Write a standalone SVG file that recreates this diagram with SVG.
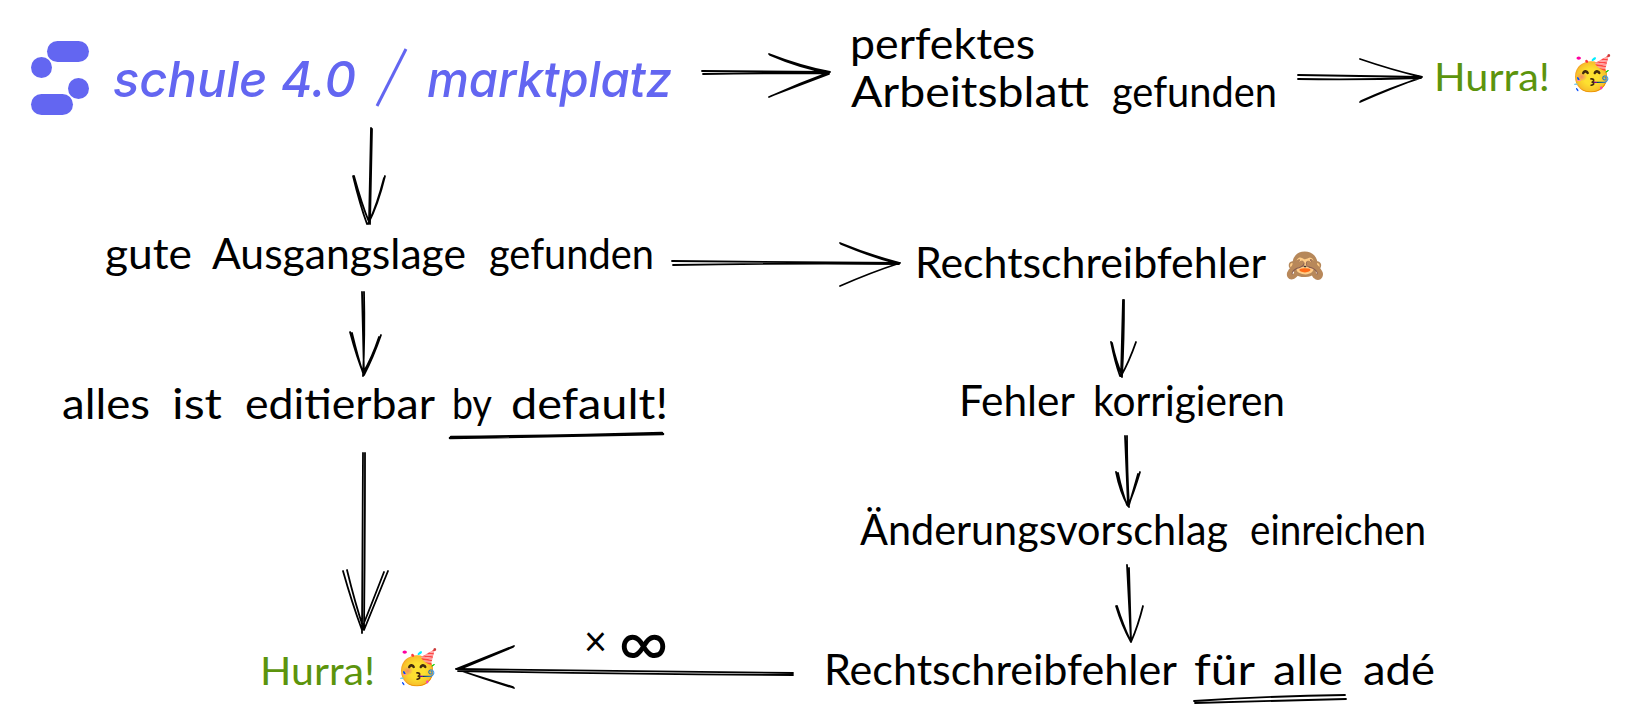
<svg xmlns="http://www.w3.org/2000/svg" width="1632" height="721" viewBox="0 0 1632 721">
<style>
.c{fill:none;stroke:#000;stroke-width:1.8;stroke-linecap:round;stroke-linejoin:round}
.u{stroke-width:2.6}
.t{font-family:"Lato","Noto Sans",sans-serif;font-size:42px;fill:#000}
.g{font-size:38px;fill:#5c940d}
.b{font-family:"Inter","Liberation Sans",sans-serif;font-style:italic;font-weight:500;font-size:50px;fill:#6366f1}
.e{font-family:"Noto Color Emoji","DejaVu Sans",sans-serif;font-size:34px}
</style>
<rect width="1632" height="721" fill="#fff"/>
<g id="logo" fill="#6366f1">
<rect x="47" y="41" width="42" height="21" rx="10.5"/>
<ellipse cx="41.5" cy="67.5" rx="10.5" ry="10.5"/>
<ellipse cx="78.5" cy="88.5" rx="10.5" ry="10.5"/>
<rect x="31" y="94" width="42" height="21" rx="10.5"/>
<path d="M377 106L406 49" stroke="#6366f1" stroke-width="3" fill="none"/>
<text class="b" x="113" y="97" textLength="243" lengthAdjust="spacingAndGlyphs">schule 4.0</text>
<text class="b" x="427" y="97" textLength="245" lengthAdjust="spacingAndGlyphs">marktplatz</text>
</g>
<g id="n-perfekt"><text class="t"><tspan x="850" y="59" textLength="185" lengthAdjust="spacingAndGlyphs">perfektes</tspan> <tspan x="851" y="107" textLength="238" lengthAdjust="spacingAndGlyphs">Arbeitsblatt</tspan> <tspan x="1112" y="107" textLength="165" lengthAdjust="spacingAndGlyphs">gefunden</tspan></text></g>
<g id="n-hurra1"><text class="t g" x="1434" y="91" textLength="116" lengthAdjust="spacingAndGlyphs">Hurra!</text><text class="e" x="1570" y="85">🥳</text></g>
<g id="n-gute"><text class="t" y="269"><tspan x="105" textLength="87" lengthAdjust="spacingAndGlyphs">gute</tspan> <tspan x="212" textLength="254" lengthAdjust="spacingAndGlyphs">Ausgangslage</tspan> <tspan x="489" textLength="165" lengthAdjust="spacingAndGlyphs">gefunden</tspan></text></g>
<g id="n-recht"><text class="t" x="915" y="278" textLength="351" lengthAdjust="spacingAndGlyphs">Rechtschreibfehler</text><text class="e" x="1285" y="276" style="font-size:32px">🙈</text></g>
<g id="n-alles"><text class="t" y="419"><tspan x="62" textLength="88" lengthAdjust="spacingAndGlyphs">alles</tspan> <tspan x="172" textLength="50" lengthAdjust="spacingAndGlyphs">ist</tspan> <tspan x="245" textLength="189" lengthAdjust="spacingAndGlyphs">editierbar</tspan> <tspan x="452" textLength="39" lengthAdjust="spacingAndGlyphs">by</tspan> <tspan x="511" textLength="157" lengthAdjust="spacingAndGlyphs">default!</tspan></text><path class="c u" d="M450 438L663 434M451 437Q560 436 662 433"/></g>
<g id="n-fehler"><text class="t" y="416"><tspan x="959" textLength="115" lengthAdjust="spacingAndGlyphs">Fehler</tspan> <tspan x="1093" textLength="192" lengthAdjust="spacingAndGlyphs">korrigieren</tspan></text></g>
<g id="n-aenderung"><text class="t" y="545"><tspan x="860" textLength="368" lengthAdjust="spacingAndGlyphs">Änderungsvorschlag</tspan> <tspan x="1250" textLength="176" lengthAdjust="spacingAndGlyphs">einreichen</tspan></text></g>
<g id="n-ade"><text class="t" y="685"><tspan x="824" textLength="352" lengthAdjust="spacingAndGlyphs">Rechtschreibfehler</tspan> <tspan x="1194" textLength="60" lengthAdjust="spacingAndGlyphs">für</tspan> <tspan x="1273" textLength="70" lengthAdjust="spacingAndGlyphs">alle</tspan> <tspan x="1363" textLength="72" lengthAdjust="spacingAndGlyphs">adé</tspan></text><path class="c" d="M1194 701Q1270 696 1345 695M1195 703Q1270 701 1346 699"/></g>
<g id="n-hurra2"><text class="t g" x="260" y="685" textLength="115" lengthAdjust="spacingAndGlyphs">Hurra!</text><text class="e" x="396" y="679">🥳</text></g>
<g id="l-infinity"><text class="t" y="656"><tspan x="584" textLength="23" lengthAdjust="spacingAndGlyphs">×</tspan> <tspan x="618" y="667" style="font-size:70px" textLength="51" lengthAdjust="spacingAndGlyphs">∞</tspan></text></g>
<g id="connectors">
<path class="c" d="M702 71L828 72M703 74Q770 73 829 73M769 54Q800 66 830 72M770 55Q800 68 829 73M769 97Q800 83 830 72M771 96Q800 85 829 74"/>
<path class="c" d="M1298 75L1422 77M1298 79Q1360 80 1421 78M1360 59Q1392 70 1422 77M1360 102Q1392 88 1422 77M1361 101Q1392 87 1421 78"/>
<path class="c" d="M371 128L369 222M372 129Q371 180 370 224M353 176Q360 205 367 224M354 176Q362 205 369 222M385 176Q378 205 368 224M384 178Q377 205 369 222"/>
<path class="c" d="M672 261L900 263M673 265Q790 263 899 264M840 243Q872 256 900 263M840 286Q872 272 900 263M841 244Q872 257 899 264"/>
<path class="c" d="M362 292L364 375M364 292Q365 335 363 376M350 332Q357 358 364 375M352 333Q358 358 363 373M381 335Q373 358 364 375M379 337Q372 358 363 373"/>
<path class="c" d="M363 453L362 633M365 453Q365 540 364 630M343 571Q352 603 362 630M347 570Q355 603 364 630M388 571Q375 603 364 630M384 572Q372 603 362 628"/>
<path class="c" d="M1123 300L1121 376M1124 300Q1124 340 1122 377M1111 342Q1115 362 1120 376M1136 342Q1129 362 1121 376M1112 343Q1116 362 1122 375"/>
<path class="c" d="M1125 436L1128 506M1127 436Q1127 470 1129 507M1116 472Q1120 492 1128 506M1118 473Q1122 492 1127 505M1140 472Q1134 492 1128 506M1138 474Q1133 492 1129 505"/>
<path class="c" d="M1127 565L1131 642M1129 568Q1130 605 1131 640M1116 606Q1122 626 1131 642M1143 606Q1138 626 1131 642M1117 606Q1123 625 1130 640"/>
<path class="c" d="M793 673L456 669M793 675Q620 674 458 671M514 646Q484 658 456 669M514 688Q484 679 456 669M513 647Q484 659 458 670M513 687Q484 678 458 670"/>
</g>
</svg>
